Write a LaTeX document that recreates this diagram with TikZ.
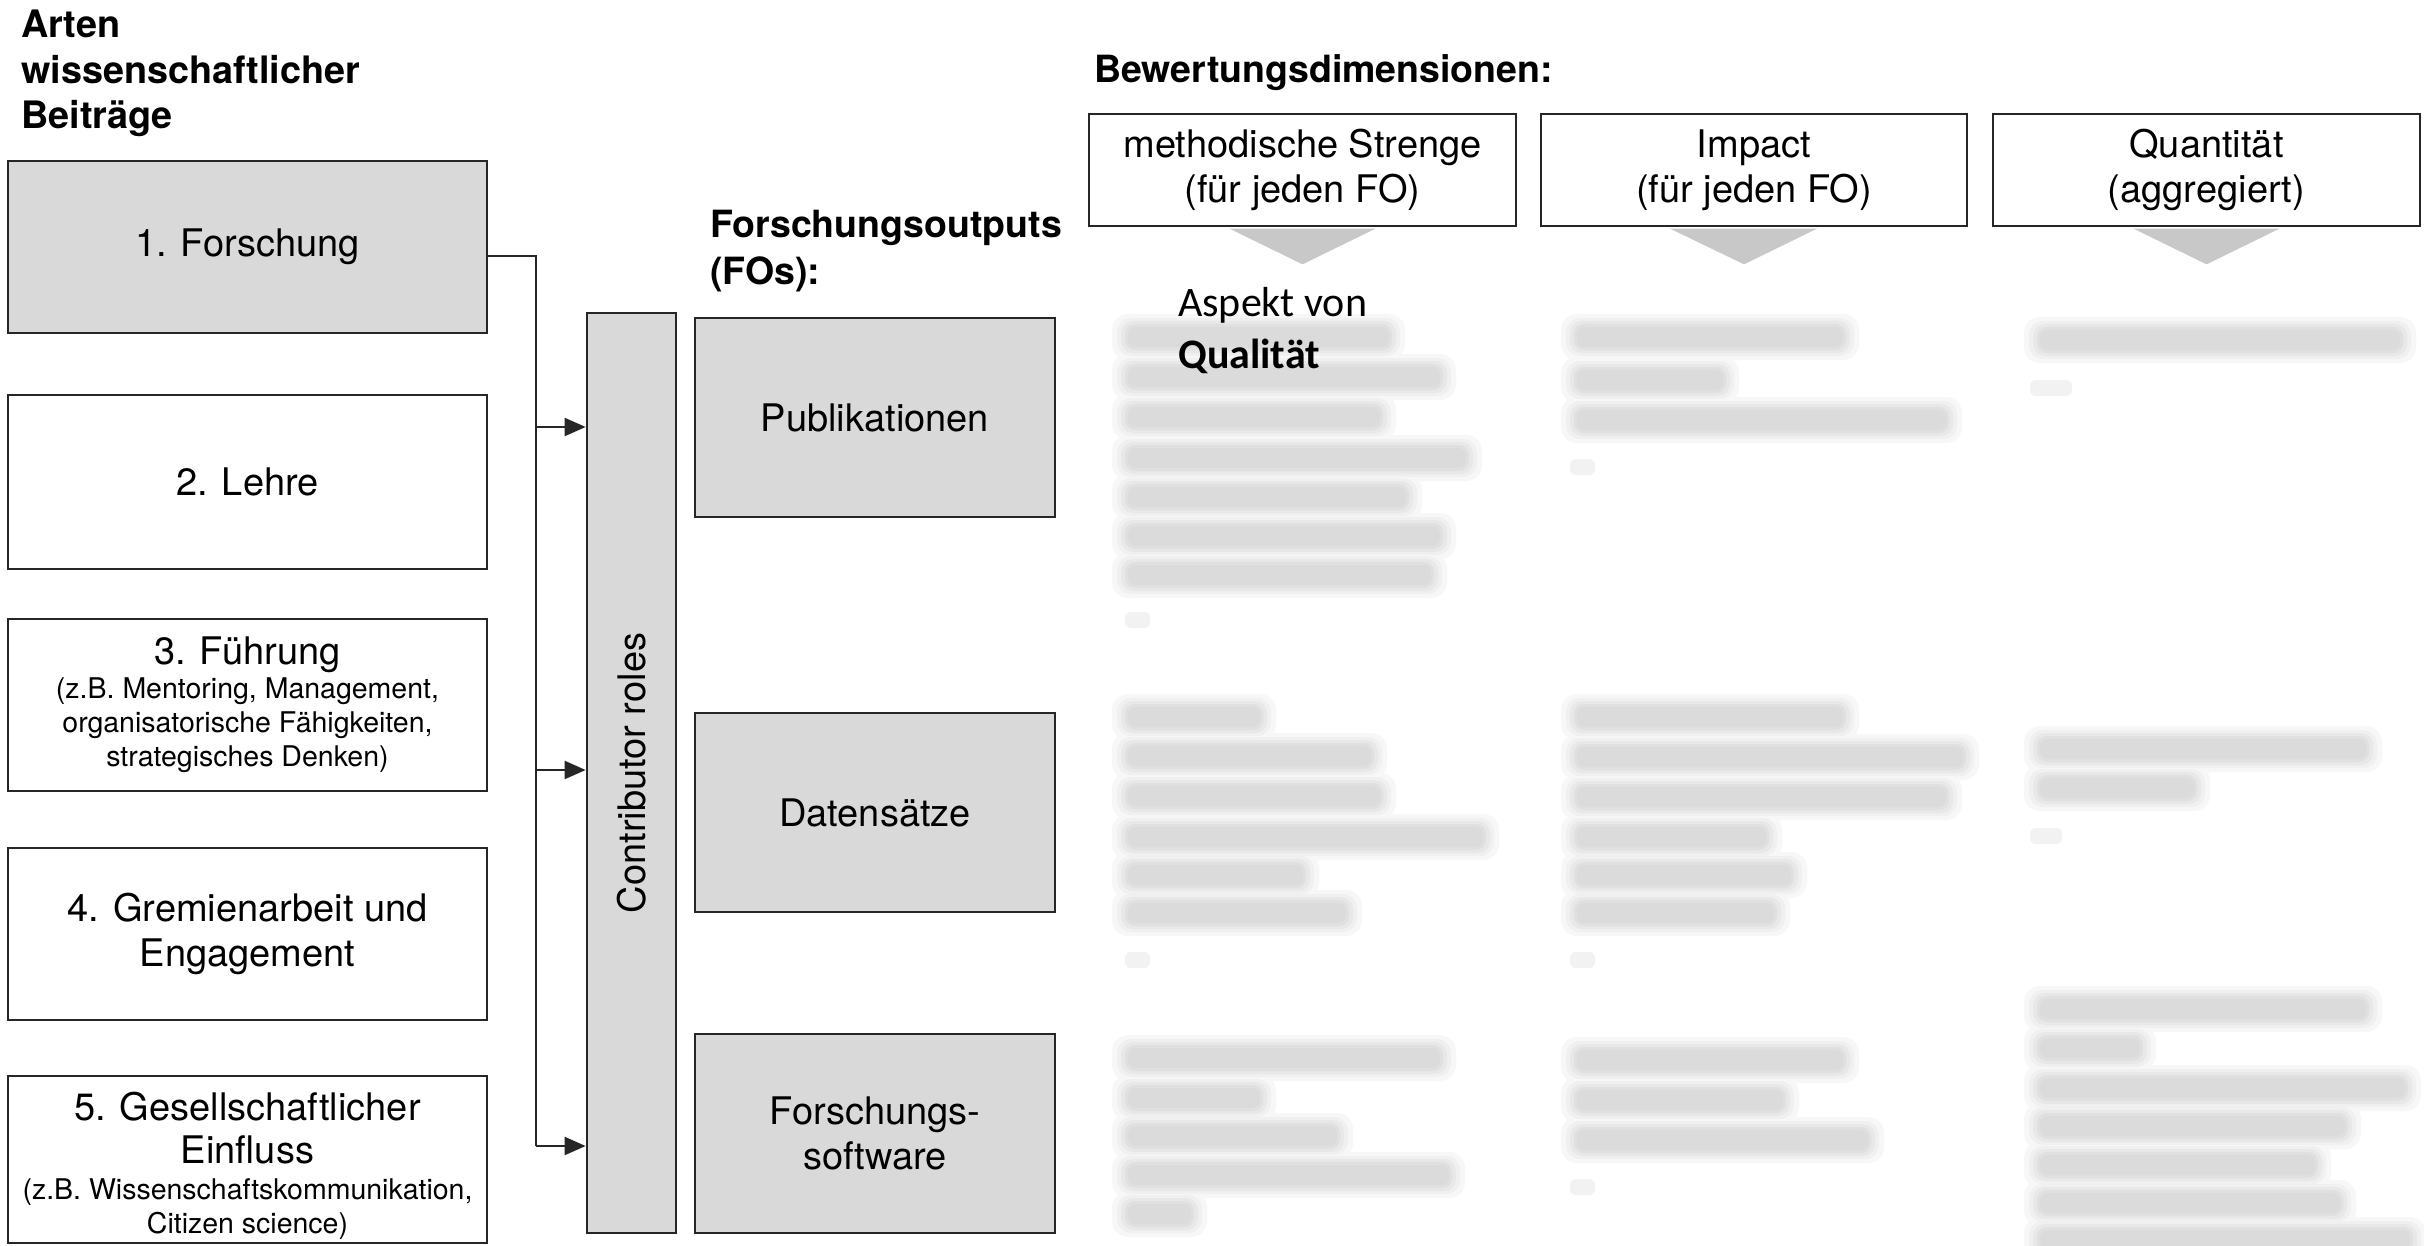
\documentclass[tikz,border=0pt]{standalone}
\usepackage{fontspec}
\setmainfont{TeX Gyre Heros}
\newfontfamily\calibrifont{Carlito}
\usetikzlibrary{arrows.meta}
\definecolor{boxgray}{HTML}{D9D9D9}
\definecolor{trigray}{HTML}{C8C8C8}
\definecolor{edgecol}{HTML}{262626}
\begin{document}
\begin{tikzpicture}[x=1pt,y=-1pt,
  box/.style={draw=edgecol, line width=2.7pt, inner sep=0pt, align=center, font=\fontsize{38}{45}\selectfont},
  grayfill/.style={fill=boxgray},
  whitefill/.style={fill=white},
  conn/.style={line width=2.2pt, draw=black!85},
  arr/.style={conn, -{Triangle[length=21pt,width=18pt]}},
  heading/.style={inner sep=0pt, font=\bfseries\fontsize{37.8}{45.5}\selectfont},
  tri/.style={fill=trigray},
  blurA/.style={fill=black!3, rounded corners=16pt},
  blurB/.style={fill=black!6, rounded corners=14pt},
  blurC/.style={fill=black!9, rounded corners=12pt},
  blurD/.style={fill=black!12, rounded corners=10pt},
  blurE/.style={fill=black!14, rounded corners=8pt},
  blurdot/.style={fill=black!5, rounded corners=6pt}
]
\useasboundingbox[fill=white] (0,0) rectangle (2424,1246);

% ---------- blurred text (unreadable in the reference) ----------
\def\blurlist{1128/337/1389, 1128/377/1440, 1128/417/1380, 1128/458/1466, 1128/497/1406, 1128/536/1440, 1128/575/1431,
  1577/337/1843, 1577/380/1723, 1577/420/1946,
  2040/340/2400,
  1128/717/1260, 1128/756/1371, 1128/796/1380, 1128/837/1483, 1128/875/1303, 1128/913/1346,
  1577/717/1843, 1577/757/1963, 1577/797/1946, 1577/837/1766, 1577/875/1791, 1577/913/1774,
  2040/749/2366, 2040/788/2194,
  1128/1058/1440, 1128/1098/1260, 1128/1136/1337, 1128/1175/1449, 1128/1214/1191,
  1577/1060/1843, 1577/1100/1783, 1577/1140/1868,
  2040/1009/2366, 2040/1048/2140, 2040/1088/2405, 2040/1126/2345, 2040/1165/2315, 2040/1203/2340, 2040/1240/2410}
\def\dotlist{1125/620/1150, 1570/467/1595, 2030/388/2072, 1125/960/1150, 1570/960/1595, 2030/836/2062, 1570/1187/1595}
\foreach \xa/\yy/\xb in \blurlist {\path[blurA] (\xa-16,\yy-23) rectangle (\xb+16,\yy+23);}
\foreach \xa/\yy/\xb in \blurlist {\path[blurB] (\xa-11,\yy-19) rectangle (\xb+11,\yy+19);}
\foreach \xa/\yy/\xb in \blurlist {\path[blurC] (\xa-7,\yy-16) rectangle (\xb+7,\yy+16);}
\foreach \xa/\yy/\xb in \blurlist {\path[blurD] (\xa-3,\yy-13) rectangle (\xb+3,\yy+13);}
\foreach \xa/\yy/\xb in \blurlist {\path[blurE] (\xa,\yy-10) rectangle (\xb,\yy+10);}
\foreach \xa/\yy/\xb in \dotlist {\path[blurdot] (\xa,\yy-8) rectangle (\xb,\yy+8);}

% ---------- headings ----------
\node[heading, anchor=north west, align=left] (hArten) at (21,10) {Arten\\wissenschaftlicher\\Beiträge};
\node[heading, anchor=north west, align=left, font=\bfseries\fontsize{37.5}{47}\selectfont] (hFO) at (710,210) {Forschungsoutputs\\(FOs):};
\node[heading, anchor=base west, font=\bfseries\fontsize{37.5}{45}\selectfont] (hBew) at (1094,83) {Bewertungsdimensionen:};

% ---------- left column ----------
\node[box, grayfill, minimum width=479, minimum height=172] (b1) at (247.5,247) {1. Forschung};
\node[box, whitefill, minimum width=479, minimum height=174] (b2) at (247.5,482) {2. Lehre};
\node[box, whitefill, minimum width=479, minimum height=172, font=\fontsize{28.5}{34}\selectfont] (b3) at (247.5,705)
  {{\fontsize{38}{45}\selectfont 3. Führung}\\(z.B. Mentoring, Management,\\organisatorische Fähigkeiten,\\strategisches Denken)};
\node[box, whitefill, minimum width=479, minimum height=172] (b4) at (247.5,934) {4. Gremienarbeit und\\Engagement};
\node[box, whitefill, minimum width=479, minimum height=167] (b5) at (247.5,1159.5) {};
\node[inner sep=0pt, align=center, font=\fontsize{28.5}{34}\selectfont] (b5t) at ([yshift=-6pt]b5.center)
  {{\fontsize{38}{45}\selectfont 5. Gesellschaftlicher}\\[9pt]{\fontsize{38}{45}\selectfont Einfluss}\\[2pt](z.B. Wissenschaftskommunikation,\\Citizen science)};

% ---------- contributor roles ----------
\node[box, grayfill, minimum width=89, minimum height=920] (cr) at (631.5,773) {};
\node[rotate=90, inner sep=0pt, font=\fontsize{38}{44}\selectfont] (crl) at (cr.center) {Contributor roles};

% ---------- research outputs ----------
\node[box, grayfill, minimum width=360, minimum height=199] (pub) at (875,417.5) {Publikationen};
\node[box, grayfill, minimum width=360, minimum height=199] (dat) at (875,812.5) {Datensätze};
\node[box, grayfill, minimum width=360, minimum height=199] (sw) at (875,1133.5) {Forschungs-\\software};

% ---------- evaluation dimensions ----------
\node[box, whitefill, minimum width=427, minimum height=112] (dA) at (1302.5,170) {methodische Strenge\\(für jeden FO)};
\node[box, whitefill, minimum width=426, minimum height=112] (dB) at (1754,170) {Impact\\(für jeden FO)};
\node[box, whitefill, minimum width=427, minimum height=112] (dC) at (2206.5,170) {Quantität\\(aggregiert)};
\fill[tri] ([xshift=-73pt,yshift=-1.3pt]dA.south) -- ([xshift=73pt,yshift=-1.3pt]dA.south) -- ([yshift=-37pt]dA.south) -- cycle;
\fill[tri] ([xshift=-84pt,yshift=-1.3pt]dB.south) -- ([xshift=63pt,yshift=-1.3pt]dB.south) -- ([xshift=-10pt,yshift=-37pt]dB.south) -- cycle;
\fill[tri] ([xshift=-73pt,yshift=-1.3pt]dC.south) -- ([xshift=73pt,yshift=-1.3pt]dC.south) -- ([yshift=-37pt]dC.south) -- cycle;

\node[anchor=north west, align=left, inner sep=0pt, font=\calibrifont\fontsize{42}{52}\selectfont] (asp) at (1178,287) {Aspekt von\\\textbf{Qualität}};

% ---------- connectors ----------
\coordinate (j) at (536,256);
\coordinate (r1) at (0,427);
\coordinate (r2) at (0,770);
\coordinate (r3) at (0,1146);
\draw[conn] (b1.east |- j) -- (j) -- (j |- r3);
\draw[arr] (j |- r1) -- (cr.west |- r1);
\draw[arr] (j |- r2) -- (cr.west |- r2);
\draw[arr] (j |- r3) -- (cr.west |- r3);
\end{tikzpicture}
\end{document}
